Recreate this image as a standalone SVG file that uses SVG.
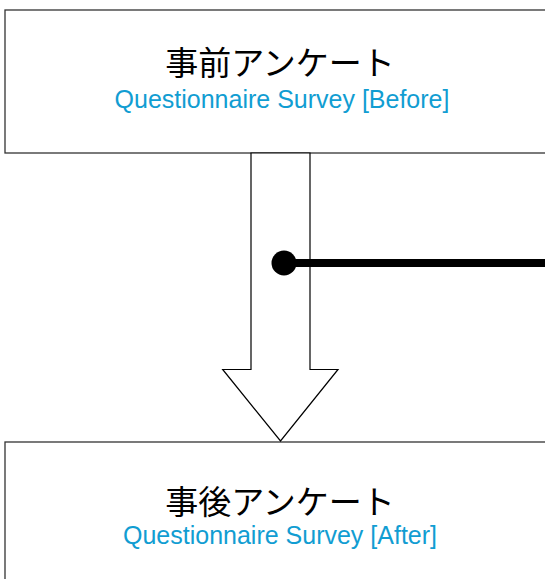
<svg xmlns="http://www.w3.org/2000/svg" width="545" height="579" viewBox="0 0 545 579">
<style>
.box{fill:#fff;stroke:#333;stroke-width:1.3}
.jp{font-family:"Noto Sans CJK JP","Noto Sans",sans-serif;font-size:33px;fill:#000;text-anchor:middle}
.en{font-family:"Liberation Sans",Arial,sans-serif;font-size:25px;fill:#119dd2;text-anchor:middle}
.arrow{fill:#fff;stroke:#000;stroke-width:1.2;stroke-linejoin:miter}
</style>
<rect width="545" height="579" fill="#fff"/>
<g id="before">
<rect class="box" x="5" y="10" width="560" height="143"/>
<text class="jp" x="280" y="75">事前アンケート</text>
<text class="en" x="282" y="107.5">Questionnaire Survey [Before]</text>
</g>
<g id="after">
<rect class="box" x="5" y="442" width="560" height="160"/>
<text class="jp" x="280" y="514">事後アンケート</text>
<text class="en" x="280" y="544.3">Questionnaire Survey [After]</text>
</g>
<g id="connectors">
<polygon class="arrow" points="251,153 310,153 310,369.5 338,369.5 280.5,441 222.7,369.5 251,369.5"/>
<line x1="284" y1="263" x2="545" y2="263" stroke="#000" stroke-width="8"/>
<circle cx="284" cy="263" r="12.5" fill="#000"/>
</g>
</svg>
